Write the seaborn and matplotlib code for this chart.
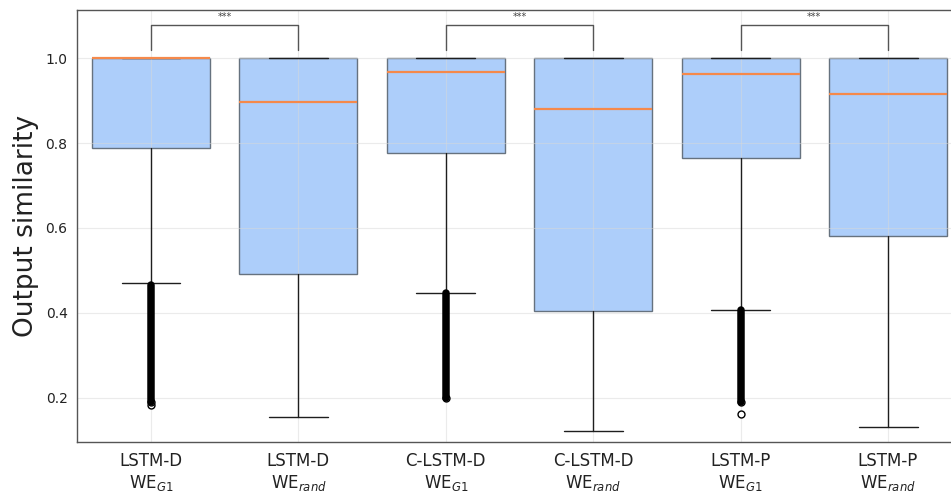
import numpy as np
import matplotlib
matplotlib.use("Agg")
import matplotlib.pyplot as plt
import seaborn as sns

# datos
models = ["LSTM-D", "LSTM-D", "C-LSTM-D", "C-LSTM-D", "LSTM-P", "LSTM-P"]
embeddings = ["WE$_{G1}$", "WE$_{rand}$", "WE$_{G1}$", "WE$_{rand}$", "WE$_{G1}$", "WE$_{rand}$"]
q1 = [0.789, 0.492, 0.777, 0.404, 0.765, 0.581]
median = [1.000, 0.898, 0.967, 0.880, 0.964, 0.916]
q3 = [1.000, 1.000, 1.000, 1.000, 1.000, 1.000]
whis_low = [0.470, 0.155, 0.446, 0.122, 0.407, 0.132]
whis_high = [1.000, 1.000, 1.000, 1.000, 1.000, 1.000]
# outliers aislados
outliers = [[0.183, 0.19], [], [0.2], [], [0.19, 0.161], []]
# franja densa de outliers (min, max)
dense_low = [0.19, None, 0.2, None, 0.19, None]
dense_high = [0.466, None, 0.447, None, 0.406, None]
# pares comparados y su significancia
pairs = [(0, 1), (2, 3), (4, 5)]
stars = ["***", "***", "***"]

sns.set_style("white")
plt.rcParams["font.family"] = ["DejaVu Sans"]

fig = plt.figure(figsize=(9.51, 4.92), dpi=100)
ax = fig.add_axes([0.0813, 0.101, 0.930, 0.8787])

stats = []
for i in range(len(models)):
    stats.append(dict(med=median[i], q1=q1[i], q3=q3[i],
                      whislo=whis_low[i], whishi=whis_high[i],
                      fliers=outliers[i]))

ax.bxp(stats, positions=range(len(models)), widths=0.8, patch_artist=True,
       boxprops=dict(facecolor="#adcefa", edgecolor="#66727f", linewidth=1, zorder=2),
       medianprops=dict(color="#f5894b", linewidth=1.6, zorder=3),
       whiskerprops=dict(color="#1e1e1e", linewidth=1, zorder=3),
       capprops=dict(color="#1e1e1e", linewidth=1, zorder=3),
       flierprops=dict(marker="o", markerfacecolor="white",
                       markeredgecolor="black", markersize=5, zorder=3))

# franjas densas de outliers
for i in range(len(models)):
    if dense_low[i] is not None:
        ax.vlines(i, dense_low[i], dense_high[i], color="black",
                  linewidth=5.4, capstyle="round", zorder=4)

# corchetes de significancia
for (a, b), s in zip(pairs, stars):
    ax.plot([a, a, b, b], [1.020, 1.078, 1.078, 1.020], color="#555555", lw=1, zorder=3)
    ax.text((a + b) / 2, 1.097, s, ha="center", va="center",
            fontsize=7, color="#444444")

ax.set_xlim(-0.5, 5.5)
ax.set_ylim(0.0949, 1.1138)
ax.set_yticks([0.2, 0.4, 0.6, 0.8, 1.0])
ax.set_yticklabels(["0.2", "0.4", "0.6", "0.8", "1.0"])
ax.set_xticks(range(len(models)))
ax.set_xticklabels([m + "\n" + e for m, e in zip(models, embeddings)])
ax.tick_params(axis="x", labelsize=12, colors="#222222", length=3.5, width=0.8)
ax.tick_params(axis="y", labelsize=10, colors="#222222", length=3.5, width=0.8)
ax.tick_params(axis="both", color="#555555")

ax.grid(True, color="#d8d8d8", alpha=0.5, linewidth=0.8)
ax.set_axisbelow(False)
for sp in ax.spines.values():
    sp.set_color("#555555")
    sp.set_linewidth(1)
    sp.set_zorder(5)

ax.set_ylabel("Output similarity", fontsize=19, color="#222222", labelpad=5)

fig.savefig("out.png", dpi=100)
